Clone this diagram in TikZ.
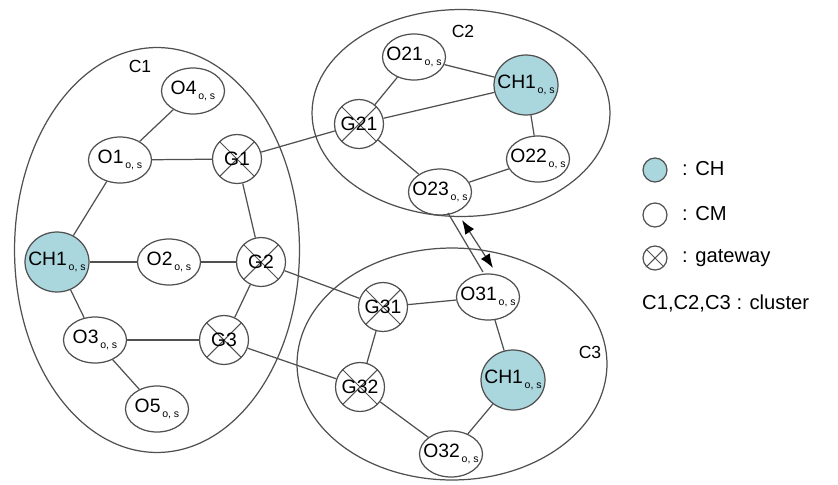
\documentclass[tikz,border=0pt]{standalone}
\usepackage{fontspec}
\setmainfont{Liberation Sans}
\usetikzlibrary{shapes.geometric,arrows.meta,calc}
\definecolor{chblue}{RGB}{170,214,222}
\definecolor{linegray}{RGB}{80,80,80}
\newcommand\osub{\raisebox{-0.5ex}{\fontsize{6}{7}\selectfont\,o, s}}
\tikzset{member/.style={ellipse,draw=linegray,line width=0.7pt,minimum width=1.26cm,minimum height=0.92cm,
            inner xsep=-4pt,inner ysep=0pt,font=\fontsize{11}{13}\selectfont},
         head/.style={member,fill=chblue,minimum width=1.28cm,minimum height=1.2cm},
         gateway/.style={circle,draw=linegray,line width=0.7pt,minimum size=0.98cm,inner sep=0pt,
            font=\fontsize{11}{13}\selectfont,
            path picture={
            \draw[linegray,line width=0.6pt] (path picture bounding box.north west) -- (path picture bounding box.south east)
                 (path picture bounding box.north east) -- (path picture bounding box.south west);
  }},
         cluster/.style={ellipse,draw=linegray,line width=0.7pt,inner sep=0pt},
         link/.style={draw=linegray,line width=0.7pt},
         legend/.style={anchor=west,font=\fontsize{11.5}{13}\selectfont}
}
\begin{document}
\begin{tikzpicture}[x=0.02cm,y=-0.02cm]
\useasboundingbox (0,0) rectangle (838,484);

% clusters
\node[cluster,minimum width=5.7cm,minimum height=8.1cm] (c1) at (157,250) {};
\node[cluster,minimum width=5.96cm,minimum height=4.14cm] (c2) at (461,113) {};
\node[cluster,minimum width=6.2cm,minimum height=4.64cm] (c3) at (452,364) {};
\node (c1lab) at (140,66) {C1};
\node (c2lab) at (463,31) {C2};
\node (c3lab) at (590,352) {C3};

% cluster C1
\node[member] (o4) at (193,91) {O4\osub};
\node[member] (o1) at (120,160) {O1\osub};
\node[gateway] (g1) at (237,159) {G1};
\node[head] (ch1a) at (57,262) {CH1\osub};
\node[member] (o2) at (169,262) {O2\osub};
\node[gateway] (g2) at (261,262) {G2};
\node[member] (o3) at (95,340) {O3\osub};
\node[gateway] (g3) at (224,340) {G3};
\node[member] (o5) at (157,409) {O5\osub};

% cluster C2
\node[member] (o21) at (414,57) {O21\osub};
\node[head] (ch1b) at (526,85) {CH1\osub};
\node[gateway] (g21) at (359,124) {G21};
\node[member] (o22) at (538,159) {O22\osub};
\node[member] (o23) at (440,192) {O23\osub};

% cluster C3
\node[gateway] (g31) at (383,307) {G31};
\node[member] (o31) at (488,297) {O31\osub};
\node[head] (ch1c) at (513,380) {CH1\osub};
\node[gateway] (g32) at (360,387) {G32};
\node[member] (o32) at (451,454) {O32\osub};

% links
\draw[link] (o4) -- (o1);
\draw[link] (o1) -- (g1);
\draw[link] (o1) -- (ch1a);
\draw[link] (g1) -- (g2);
\draw[link] (ch1a) -- (o2);
\draw[link] (o2) -- (g2);
\draw[link] (ch1a) -- (o3);
\draw[link] (g2) -- (g3);
\draw[link] (o3) -- (g3);
\draw[link] (o3) -- (o5);

\draw[link] (o21) -- (g21);
\draw[link] (o21) -- (ch1b);
\draw[link] (g21) -- (ch1b);
\draw[link] (g21) -- (o23);
\draw[link] (ch1b) -- (o22);
\draw[link] (o22) -- (o23);

\draw[link] (g31) -- (o31);
\draw[link] (o31) -- (ch1c);
\draw[link] (g31) -- (g32);
\draw[link] (ch1c) -- (o32);
\draw[link] (g32) -- (o32);

\draw[link] (g1) -- (g21);
\draw[link] (g2) -- (g31);
\draw[link] (g3) -- (g32);

\draw[link] ($(o23)+(8,21)$) -- ($(o31)+(-5,-25)$);
\draw[link,{Latex[length=8pt,width=6pt,black]}-{Latex[length=8pt,width=6pt,black]}] ($(o23)+(22,28)$) -- ($(o31)+(5,-29)$);

% legend
\node[circle,draw=linegray,fill=chblue,line width=0.7pt,minimum size=0.48cm] (kch) at (655,170) {};
\node[circle,draw=linegray,line width=0.7pt,minimum size=0.48cm] (kcm) at (655,215) {};
\node[gateway,minimum size=0.48cm] (kgw) at (655,258) {};
\node[legend] (tch) at (676,169) {: CH};
\node[legend] (tcm) at (676,214) {: CM};
\node[legend] (tgw) at (676,258) {: gateway};
\node[legend] (tcl) at (636,303) {C1,C2,C3 : cluster};

\end{tikzpicture}
\end{document}
